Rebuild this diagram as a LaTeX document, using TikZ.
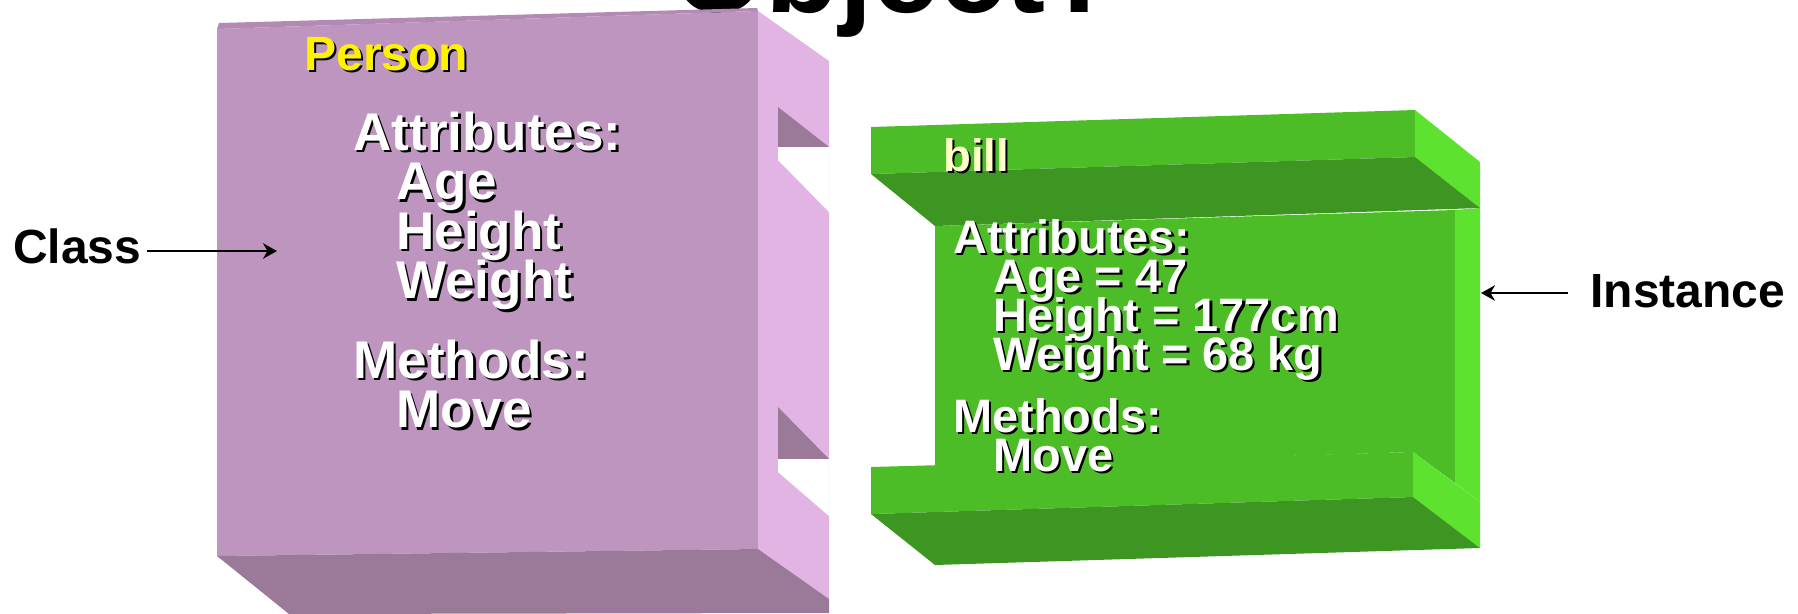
\documentclass[tikz,border=0pt]{standalone}
\usepackage{fontspec}
\setmainfont{Liberation Sans}
\usetikzlibrary{arrows.meta}
\definecolor{classfront}{RGB}{189,149,191}
\definecolor{classtop}{RGB}{178,138,180}
\definecolor{classside}{RGB}{226,180,228}
\definecolor{classdark}{RGB}{154,122,152}
\definecolor{instfront}{RGB}{76,189,38}
\definecolor{instdark}{RGB}{62,150,34}
\definecolor{instside}{RGB}{94,226,48}
\definecolor{billyellow}{RGB}{255,255,200}

% text with a black drop shadow behind it
\newcommand{\embossed}[4]{%
  \node[#2, text=black, shift={(2.5,2.5)}] (#1-sh) at #3 {#4};
  \node[#2] (#1) at #3 {#4};}

\begin{document}
\begin{tikzpicture}[x=0.02cm, y=-0.02cm,
    classtxt/.style={font=\bfseries\fontsize{30.2}{36}\selectfont,
      text=white, inner sep=0, anchor=base west},
    insttxt/.style={font=\bfseries\fontsize{26.7}{32}\selectfont,
      text=white, inner sep=0, anchor=base west},
    sidelabel/.style={font=\bfseries\fontsize{27.3}{32}\selectfont, anchor=base west},
    pointer/.style={-{Stealth[length=2.8mm, width=3.1mm, inset=0.9mm]}, line width=0.04cm}]
    \useasboundingbox (0,0) rectangle (1798,613);

    % Title, mostly cut off at the top
    \node[font=\bfseries\fontsize{68.3}{70}\selectfont, anchor=base west, inner sep=0]
        (title) at (672,12) {Object?};

    % Class block (purple)
    \fill[classfront] (217,29) -- (758,11) -- (758,549) -- (217,556) -- cycle;
    \fill[classtop] (219,23) -- (757,8) -- (758,11) -- (217,29) -- cycle;
    \fill[classside] (758,11) -- (829,61) -- (829,599) -- (758,549) -- cycle;
    \fill[classdark] (217,556) -- (758,549) -- (829,599) -- (829,613) -- (289,614) -- cycle;

    % Notches in the side face
    \fill[classdark] (778,107) -- (829,147) -- (778,147) -- cycle;
    \fill[white] (778,147) -- (829,147) -- (829,212) -- (778,160) -- cycle;
    \fill[classdark] (778,407) -- (829,459) -- (778,459) -- cycle;
    \fill[white] (778,459) -- (829,459) -- (829,516) -- (778,472) -- cycle;

    % Instance block (green): web
    \fill[instfront] (935,226) -- (1455,210) -- (1455,483) -- (1413,452) -- (935,467) -- cycle;
    \fill[instside] (1455,210) -- (1480,208) -- (1480,502) -- (1455,483) -- cycle;

    % top flange
    \fill[instfront] (871,127) -- (1415,110) -- (1415,157) -- (871,174) -- cycle;
    \fill[instside] (1415,110) -- (1480,162) -- (1480,208) -- (1415,157) -- cycle;
    \fill[instdark] (871,174) -- (1415,157) -- (1480,208) -- (935,226) -- cycle;

    % bottom flange
    \fill[instfront] (871,467) -- (1413,452) -- (1413,497) -- (871,514) -- cycle;
    \fill[instside] (1413,452) -- (1480,502) -- (1480,548) -- (1413,497) -- cycle;
    \fill[instdark] (871,514) -- (1413,497) -- (1480,548) -- (935,565) -- cycle;

    % Class contents
    \embossed{person}{classtxt, font=\bfseries\fontsize{27.4}{32}\selectfont, text=yellow}{(304,70)}{Person}
    \foreach \txt/\x/\y [count=\i] in {Attributes:/353/150, Age/396/199.5,
        Height/396/249, Weight/396/298.5, Methods:/353/378, Move/396/427.5}
      {\embossed{pline\i}{classtxt}{(\x,\y)}{\txt}}

    % Instance contents
    \embossed{bill}{insttxt, font=\bfseries\fontsize{25.9}{30}\selectfont, text=billyellow}{(943,171)}{bill}
    \foreach \txt/\x/\y [count=\i] in {Attributes:/953/253, Age = 47/993/292,
        Height = 177cm/993/331, Weight = 68 kg/993/370, Methods:/953/432, Move/993/471}
      {\embossed{bline\i}{insttxt}{(\x,\y)}{\txt}}

    % Side labels and pointers
    \node[sidelabel, inner xsep=0.1cm] (class) at (8,263) {Class};
    \coordinate (classtip) at (277,251);
    \draw[pointer] (class.east |- classtip) -- (classtip);

    \node[sidelabel, inner xsep=0.44cm] (instance) at (1568,307) {Instance};
    \coordinate (insttip) at (1481,293);
    \draw[pointer] (instance.west |- insttip) -- (insttip);

\end{tikzpicture}
\end{document}
